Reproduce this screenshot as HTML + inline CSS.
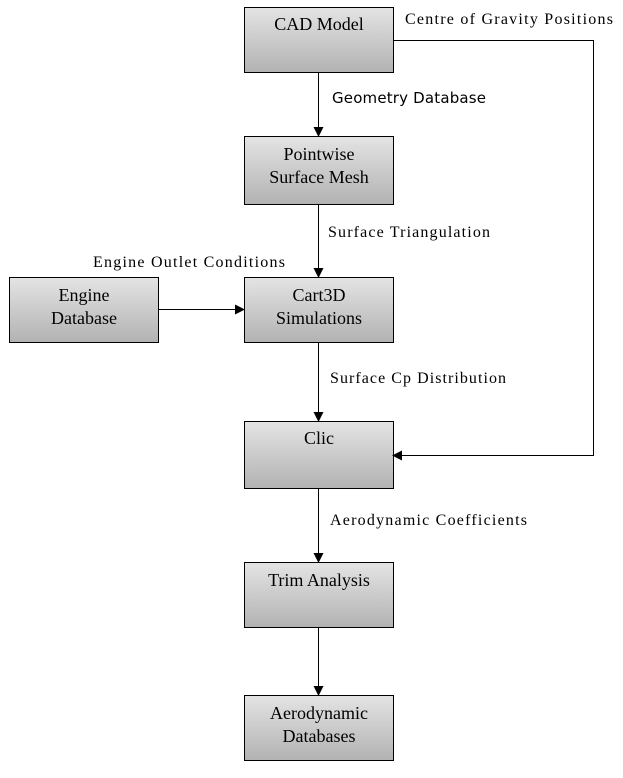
<!DOCTYPE html>
<html><head><style>body{margin:0;background:#fff}</style></head><body>
<svg width="623" height="773" xmlns="http://www.w3.org/2000/svg" font-family="Liberation Serif, serif" font-size="18">
<defs>
<linearGradient id="g" x1="0" y1="0" x2="0" y2="1"><stop offset="0" stop-color="#e4e4e4"/><stop offset="1" stop-color="#b2b2b2"/></linearGradient>
<marker id="a" markerWidth="10" markerHeight="10" refX="9" refY="5" orient="auto" markerUnits="userSpaceOnUse"><path d="M0,0 L10,5 L0,10z" fill="#000"/></marker>
</defs>
<g fill="url(#g)" stroke="#000" stroke-width="1">
<rect x="244.5" y="7.5" width="149" height="65"/>
<rect x="244.5" y="136.5" width="149" height="68"/>
<rect x="244.5" y="277.5" width="149" height="65"/>
<rect x="9.5" y="277.5" width="149" height="65"/>
<rect x="244.5" y="421.5" width="149" height="67"/>
<rect x="244.5" y="562.5" width="149" height="65"/>
<rect x="244.5" y="695.5" width="149" height="65"/>
</g>
<g stroke="#000" fill="none" marker-end="url(#a)">
<line x1="318.5" y1="72" x2="318.5" y2="136"/>
<line x1="318.5" y1="204" x2="318.5" y2="277"/>
<line x1="158" y1="309.5" x2="244" y2="309.5"/>
<line x1="318.5" y1="342" x2="318.5" y2="421"/>
<line x1="318.5" y1="488" x2="318.5" y2="562"/>
<line x1="318.5" y1="627" x2="318.5" y2="695"/>
<polyline points="393,40.5 593.5,40.5 593.5,455.5 393,455.5"/>
</g>
<g text-anchor="middle">
<text x="319" y="30">CAD Model</text>
<text x="319" y="160">Pointwise</text><text x="319" y="183">Surface Mesh</text>
<text x="319" y="301">Cart3D</text><text x="319" y="324">Simulations</text>
<text x="84" y="301">Engine</text><text x="84" y="324">Database</text>
<text x="319" y="444">Clic</text>
<text x="319" y="586">Trim Analysis</text>
<text x="319" y="719">Aerodynamic</text><text x="319" y="742">Databases</text>
</g>
<g font-size="16">
<text x="405" y="24" textLength="208">Centre of Gravity Positions</text>
<text x="332" y="103" font-size="15" font-family="DejaVu Sans, sans-serif" textLength="154">Geometry Database</text>
<text x="328" y="237" textLength="162">Surface Triangulation</text>
<text x="93" y="267" textLength="192">Engine Outlet Conditions</text>
<text x="330" y="383" textLength="176">Surface Cp Distribution</text>
<text x="330" y="525" textLength="197">Aerodynamic Coefficients</text>
</g>
</svg>
</body></html>
